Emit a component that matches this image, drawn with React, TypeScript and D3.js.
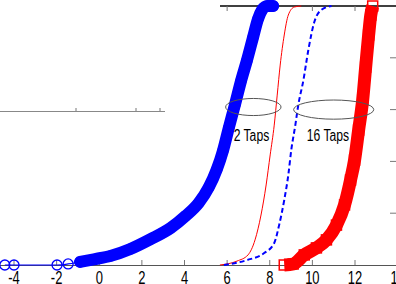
import React, { useEffect, useRef } from 'react';
import * as d3 from 'd3';

// tick labels along the bottom
const xTicks = [-4, -2, 0, 2, 4, 6, 8, 10, 12, 14];
const yTicks = [0.2, 0.4, 0.6, 0.8];

// blue circles (wide curve on the left)
const blueCircles: [number, number][] = [
  [-4.43, 0], [-4.0, 0], [-1.98, 0], [-1.46, 0.004], [-0.9, 0.012], [-0.19, 0.023],
  [0.52, 0.035], [1.46, 0.062], [2.41, 0.1], [3.35, 0.143], [4.06, 0.19], [4.67, 0.24],
  [5.14, 0.3], [5.52, 0.37], [5.8, 0.44], [6.08, 0.53], [6.37, 0.62], [6.65, 0.71],
  [6.93, 0.79], [7.22, 0.88], [7.45, 0.95], [7.64, 0.985], [7.88, 1.0], [8.16, 1.0],
];

// thin red line
const redThin: [number, number][] = [
  [5.66, 0], [6.46, 0.015], [6.98, 0.039], [7.31, 0.097], [7.59, 0.193], [7.83, 0.309],
  [8.02, 0.425], [8.21, 0.54], [8.35, 0.656], [8.49, 0.772], [8.68, 0.888], [8.87, 0.965],
  [9.15, 0.996], [9.48, 1.0],
];

// dashed blue line
const blueDashed: [number, number][] = [
  [5.85, 0], [6.93, 0.019], [7.74, 0.046], [8.21, 0.085], [8.44, 0.154], [8.68, 0.251],
  [8.87, 0.347], [9.01, 0.444], [9.2, 0.54], [9.34, 0.618], [9.58, 0.714], [9.81, 0.83],
  [10.09, 0.938], [10.42, 0.985], [10.9, 1.0],
];

// red squares (right curve)
const redSquares: [number, number][] = [
  [8.68, 0], [9.1, 0.004], [9.62, 0.039], [10.19, 0.066], [10.66, 0.097], [11.13, 0.154],
  [11.51, 0.232], [11.79, 0.328], [11.98, 0.405], [12.17, 0.521], [12.36, 0.637],
  [12.5, 0.764], [12.64, 0.888], [12.74, 0.965], [12.83, 1.0],
];

// annotation ellipses, centre and radii in data units
const notes: { cx: number; cy: number; rx: number; ry: number; lx: number; label: string }[] = [
  { cx: 7.23, cy: 0.61, rx: 1.3, ry: 0.033, lx: 7.14, label: '2 Taps' },
  { cx: 11.0, cy: 0.6, rx: 1.88, ry: 0.037, lx: 10.73, label: '16 Taps' },
];

const W = 396;
const H = 284;
const FONT = '"Liberation Sans", Arial, sans-serif';

export default function App() {
  const ref = useRef<SVGSVGElement>(null);

  useEffect(() => {
    const svg = d3.select(ref.current);
    svg.selectAll('*').remove();

    const x = d3.scaleLinear().domain([-4, 12]).range([14, 355]);
    const y = d3.scaleLinear().domain([0, 1]).range([265, 6]);

    const line = d3.line<[number, number]>()
      .x(d => x(d[0]))
      .y(d => y(d[1]))
      .curve(d3.curveMonotoneX);

    // narrow text, like the squeezed font of the original
    const label = (px: number, py: number, size: number, sx: number, txt: string) => {
      svg.append('text')
        .attr('transform', `translate(${px},${py}) scale(${sx},1)`)
        .attr('text-anchor', 'middle')
        .style('font-family', FONT).style('font-size', size + 'px')
        .style('fill', '#000')
        .text(txt);
    };

    // stray axis from a neighbouring panel
    svg.append('line')
      .attr('x1', 0).attr('x2', 165).attr('y1', 111.5).attr('y2', 111.5)
      .style('stroke', '#888').style('stroke-width', 1);
    [76, 136, 160].forEach(px => {
      svg.append('line')
        .attr('x1', px).attr('x2', px).attr('y1', 108).attr('y2', 111)
        .style('stroke', '#777').style('stroke-width', 1);
    });

    // bottom axis
    svg.append('line')
      .attr('x1', 0).attr('x2', W).attr('y1', y(0) + 0.5).attr('y2', y(0) + 0.5)
      .style('stroke', '#555').style('stroke-width', 1);
    // top axis (only right part visible)
    svg.append('line')
      .attr('x1', 220).attr('x2', W).attr('y1', y(1)).attr('y2', y(1))
      .style('stroke', '#000').style('stroke-width', 1.3);

    xTicks.forEach(t => {
      svg.append('line')
        .attr('x1', x(t)).attr('x2', x(t)).attr('y1', y(0)).attr('y2', y(0) - 5)
        .style('stroke', '#777').style('stroke-width', 1);
      if (t >= 6) {
        svg.append('line')
          .attr('x1', x(t)).attr('x2', x(t)).attr('y1', y(1)).attr('y2', y(1) + 5)
          .style('stroke', '#777').style('stroke-width', 1);
      }
      label(x(t), 283.5, 18, 0.72, String(t));
    });

    yTicks.forEach(t => {
      svg.append('line')
        .attr('x1', W).attr('x2', W - 6).attr('y1', y(t)).attr('y2', y(t))
        .style('stroke', '#777').style('stroke-width', 1);
    });

    // blue circles: thin line, dense band and markers
    svg.append('path').attr('d', line(blueCircles))
      .style('fill', 'none').style('stroke', '#0000ff').style('stroke-width', 1.2);
    svg.append('path').attr('d', line(blueCircles.filter(d => d[0] > -1.2)))
      .style('fill', 'none').style('stroke', '#0000ff').style('stroke-width', 12)
      .style('stroke-linecap', 'round');
    svg.selectAll('circle.bc').data(blueCircles).enter().append('circle')
      .attr('class', 'bc')
      .attr('cx', d => x(d[0])).attr('cy', d => y(d[1])).attr('r', 5)
      .style('fill', 'none').style('stroke', '#0000ff').style('stroke-width', 1.3);

    // thin red
    svg.append('path').attr('d', line(redThin))
      .style('fill', 'none').style('stroke', '#ff0000').style('stroke-width', 1);

    // dashed blue
    svg.append('path').attr('d', line(blueDashed))
      .style('fill', 'none').style('stroke', '#0000ff').style('stroke-width', 2)
      .style('stroke-dasharray', '5,3');

    // red squares band
    svg.append('path').attr('d', line(redSquares))
      .style('fill', 'none').style('stroke', '#ff0000').style('stroke-width', 13);
    svg.selectAll('rect.rs').data(redSquares).enter().append('rect')
      .attr('class', 'rs')
      .attr('x', d => x(d[0]) - 5).attr('y', d => y(d[1]) - 5)
      .attr('width', 10).attr('height', 10)
      .style('fill', 'none').style('stroke', '#ff0000').style('stroke-width', 1.5);

    // ellipses and labels
    notes.forEach(n => {
      svg.append('ellipse')
        .attr('cx', x(n.cx)).attr('cy', y(n.cy))
        .attr('rx', x(n.cx + n.rx) - x(n.cx))
        .attr('ry', y(0) - y(n.ry))
        .style('fill', 'none').style('stroke', '#555').style('stroke-width', 1);
      label(x(n.lx), 140.7, 16, 0.76, n.label);
    });
  }, []);

  return (
    <svg ref={ref} width={W} height={H}
         style={{ position: 'absolute', left: 0, top: 0, background: '#fff' }} />
  );
}
